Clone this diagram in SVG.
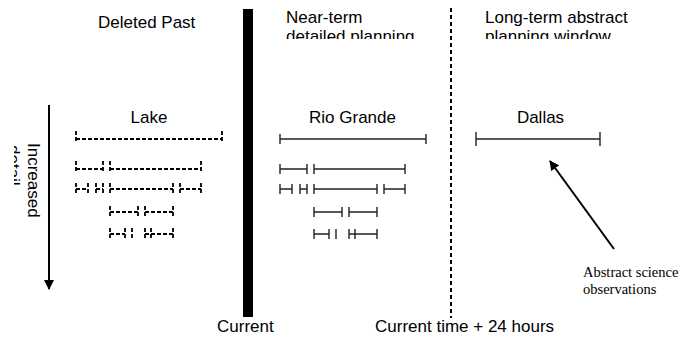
<svg xmlns="http://www.w3.org/2000/svg" width="689" height="343" viewBox="0 0 689 343">
<style>
.t{font-family:"Liberation Sans",Arial,sans-serif;font-size:17px;fill:#000}
.ts{font-family:"Liberation Serif","Times New Roman",serif;font-size:14.5px;fill:#000}
.solid{fill:none;stroke:#222;stroke-width:1.4}
.dash{fill:none;stroke:#000;stroke-width:1.8;stroke-dasharray:4 2}
.arr{fill:none;stroke:#000;stroke-width:2}
</style>
<defs>
<marker id="ah" viewBox="0 0 10 10" refX="9" refY="5" markerWidth="5" markerHeight="5" orient="auto" markerUnits="strokeWidth">
<path d="M0 0L10 5L0 10z" fill="#000"/>
</marker>
<clipPath id="clipTop"><rect x="0" y="0" width="689" height="39"/></clipPath>
<clipPath id="clipLeft"><rect x="14" y="0" width="675" height="343"/></clipPath>
</defs>

<g id="headers">
<text class="t" x="98" y="28">Deleted Past</text>
<g clip-path="url(#clipTop)">
<text class="t" x="286" y="23">Near-term</text>
<text class="t" x="286" y="42">detailed planning</text>
<text class="t" x="485" y="23">Long-term abstract</text>
<text class="t" x="485" y="42">planning window</text>
</g>
</g>

<g id="current-bar"><rect x="243" y="9" width="10" height="308" fill="#000"/></g>
<g id="plus24-line"><line x1="451" y1="8" x2="451" y2="318" stroke="#000" stroke-width="2" stroke-dasharray="4 3"/></g>

<g id="increased-detail">
<line class="arr" x1="49" y1="105" x2="49" y2="289" marker-end="url(#ah)"/>
<g clip-path="url(#clipLeft)">
<text class="t" transform="translate(28,143) rotate(90)">Increased</text>
<text class="t" transform="translate(8,145) rotate(90)">detail</text>
</g>
</g>

<g id="lake">
<text class="t" x="149" y="123" text-anchor="middle">Lake</text>
<path class="dash" d="M76 139H222 M76 131V143 M222 131V143"/>
<path class="dash" d="M76 169H103 M110 169H201 M76 161V173 M103 161V173 M110 161V173 M201 161V173"/>
<path class="dash" d="M76 189H88 M96 189H103 M110 189H173 M180 189H201 M76 183V193 M88 183V193 M96 183V193 M103 183V193 M110 183V193 M173 183V193 M180 183V193 M201 183V193"/>
<path class="dash" d="M110 212H138 M145 212H173 M110 206V216 M138 206V216 M145 206V216 M173 206V216"/>
<path class="dash" d="M110 234H125 M145 234H173 M110 228V238 M125 228V238 M132 228V238 M145 228V238 M151 228V238 M173 228V238"/>
</g>

<g id="rio-grande">
<text class="t" x="352.5" y="123" text-anchor="middle">Rio Grande</text>
<path class="solid" d="M280 139H426 M280 134V144 M426 134V144"/>
<path class="solid" d="M280 169H307 M314 169H405 M280 164V174 M307 164V174 M314 164V174 M405 164V174"/>
<path class="solid" d="M280 189H292 M300 189H307 M314 189H377 M384 189H405 M280 184V194 M292 184V194 M300 184V194 M307 184V194 M314 184V194 M377 184V194 M384 184V194 M405 184V194"/>
<path class="solid" d="M314 212H342 M349 212H377 M314 207V217 M342 207V217 M349 207V217 M377 207V217"/>
<path class="solid" d="M314 234H329 M349 234H377 M314 229V239 M329 229V239 M336 229V239 M349 229V239 M355 229V239 M377 229V239"/>
</g>

<g id="dallas">
<text class="t" x="540.5" y="123" text-anchor="middle">Dallas</text>
<path class="solid" d="M476 139H600 M476 132V146 M600 132V146"/>
</g>

<g id="abstract-obs">
<text class="ts" x="583" y="277">Abstract science</text>
<text class="ts" x="583" y="294">observations</text>
</g>

<g id="connectors">
<line class="arr" x1="614" y1="249" x2="550" y2="161" marker-end="url(#ah)"/>
</g>

<g id="footers">
<text class="t" x="217" y="332">Current</text>
<text class="t" x="375" y="332">Current time + 24 hours</text>
</g>
</svg>
